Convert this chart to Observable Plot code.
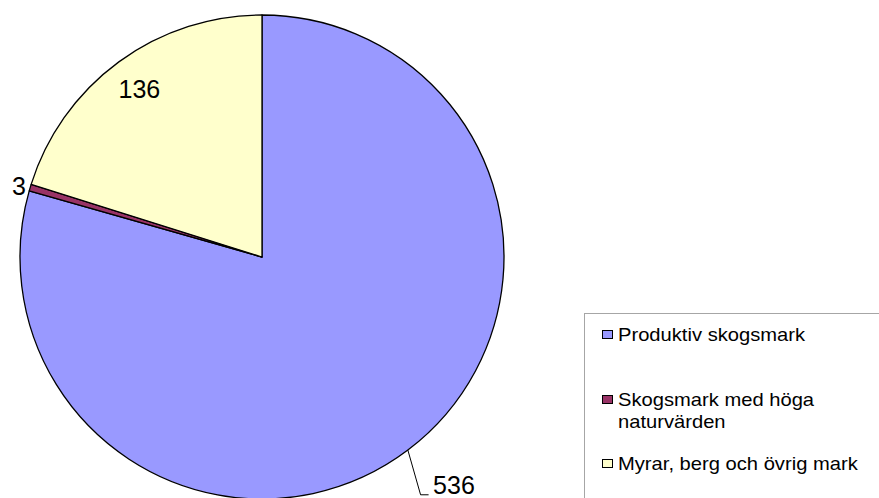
<!DOCTYPE html>
<html>
<head>
<meta charset="utf-8">
<script src="https://cdn.jsdelivr.net/npm/d3@7"></script>
<script src="https://cdn.jsdelivr.net/npm/@observablehq/plot@0.6"></script>
<style>
  html, body { margin: 0; padding: 0; background: #ffffff; }
  #chart { position: relative; width: 879px; height: 498px; overflow: hidden; }
  svg { font-family: "Liberation Sans", Arial, Helvetica, sans-serif; }
</style>
</head>
<body>
<div id="chart"></div>
<script>
// ---- Data ----
const categories = ["Produktiv skogsmark", "Skogsmark med höga naturvärden", "Myrar, berg och övrig mark"];
const values = [536, 3, 136];
const legendLines = [["Produktiv skogsmark"], ["Skogsmark med höga", "naturvärden"], ["Myrar, berg och övrig mark"]];
const colors = ["#9999FF", "#993366", "#FFFFCC"];

// ---- Layout / styling ----
const W = 879, H = 498;
const CX = 262, CY = 257, R = 242;
const labelStyle = [
  {f: 1.19, dx: -3, dy: -1, anchor: "start"},   // 536
  {f: 1.05, dx: 0, dy: 2, anchor: "middle"},    // 3
  {f: 0.86, dx: 0, dy: 0, anchor: "middle"}     // 136
];

const rows = categories.map((name, i) => ({name, value: values[i]}));
const arcs = d3.pie().sort(null).value(d => d.value)(rows);
const labels = arcs.map((a, i) => {
  const mid = (a.startAngle + a.endAngle) / 2;
  const s = labelStyle[i];
  return {name: a.data.name, value: a.data.value, mid,
          x: s.f * Math.sin(mid), y: s.f * Math.cos(mid),
          dx: s.dx, dy: s.dy, anchor: s.anchor};
});

function pieMark(index, scales) {
  const g = d3.create("svg:g");
  const x0 = scales.x(0), y0 = scales.y(0), r = scales.x(1) - x0;
  const col = scales.color || (n => colors[categories.indexOf(n)]);
  g.selectAll("path").data(arcs).join("path")
    .attr("transform", `translate(${x0},${y0})`)
    .attr("d", d3.arc().innerRadius(0).outerRadius(r))
    .attr("fill", d => col(d.data.name))
    .attr("stroke", "#000")
    .attr("stroke-width", 1.3)
    .attr("stroke-linejoin", "round");
  return g.node();
}

function leaderMark(index, scales) {
  const g = d3.create("svg:g");
  const l = labels[0];
  const ex = scales.x(Math.sin(l.mid)), ey = scales.y(Math.cos(l.mid));
  const lx = scales.x(l.x) + l.dx, ly = scales.y(l.y) + l.dy;
  g.append("path")
    .attr("d", `M${ex},${ey}L${lx - 12},${ly + 9}L${lx - 4},${ly + 9}`)
    .attr("fill", "none").attr("stroke", "#000").attr("stroke-width", 1);
  return g.node();
}

const plot = Plot.plot({
  width: W, height: H,
  margin: 0,
  style: {background: "white", fontFamily: '"Liberation Sans", Arial, sans-serif'},
  x: {domain: [-1, 1], range: [CX - R, CX + R], axis: null},
  y: {domain: [-1, 1], range: [CY + R, CY - R], axis: null},
  color: {domain: categories, range: colors},
  marks: [
    Plot.dot(rows, {x: () => 0, y: () => 0, fill: "name", r: 0}),
    pieMark,
    leaderMark,
    ...labels.map(l => Plot.text([l], {
      x: "x", y: "y", text: d => String(d.value),
      dx: l.dx, dy: l.dy, textAnchor: l.anchor, lineAnchor: "middle",
      fontSize: 25, fill: "#000"
    }))
  ]
});

document.getElementById("chart").appendChild(plot);

// ---- Legend (inside the SVG) ----
const svg = d3.select(plot);
const colorScale = plot.scale("color");
const lg = svg.append("g")
  .attr("font-family", '"Liberation Sans", Arial, sans-serif')
  .attr("text-anchor", "start");
lg.append("rect").attr("x", 584.5).attr("y", 313.5).attr("width", 400).attr("height", 300)
  .attr("fill", "white").attr("stroke", "#a6a6a6").attr("stroke-width", 1);
const baselines = [341, 406, 470];
categories.forEach((c, i) => {
  const b = baselines[i];
  lg.append("rect").attr("x", 602.5).attr("y", b - 10.5).attr("width", 10).attr("height", 8)
    .attr("fill", colorScale.apply(c)).attr("stroke", "#000").attr("stroke-width", 1);
  legendLines[i].forEach((line, j) => {
    lg.append("text")
      .attr("text-anchor", "start")
      .attr("transform", `translate(618,${b + j * 22}) scale(1.12,1)`)
      .attr("font-size", 18).attr("fill", "#000")
      .text(line);
  });
});
</script>
</body>
</html>
